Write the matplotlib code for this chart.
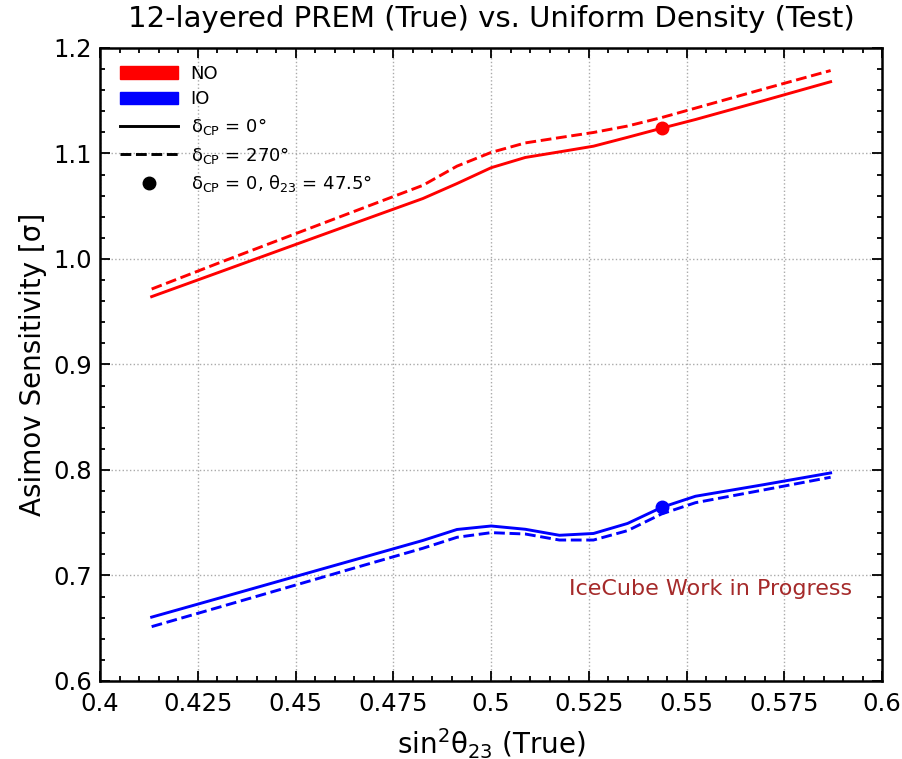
import numpy as np
import matplotlib
matplotlib.use("Agg")
import matplotlib.pyplot as plt
from matplotlib.patches import Patch
from matplotlib.lines import Line2D
from matplotlib.ticker import MultipleLocator, FixedLocator, FixedFormatter

# sin^2(theta23) for theta23 = 40 ... 50 deg
sin2_th23 = [0.41318, 0.43041, 0.44774, 0.46512, 0.48255, 0.49127, 0.5,
             0.50873, 0.51745, 0.52617, 0.53488, 0.54358, 0.55226, 0.56959, 0.58682]

no_dcp0   = [0.9643, 0.9874, 1.0107, 1.0340, 1.0573, 1.0715, 1.0865,
             1.0962, 1.1015, 1.1069, 1.1153, 1.1239, 1.1322, 1.1500, 1.1680]
no_dcp270 = [0.9715, 0.9963, 1.0208, 1.0453, 1.0698, 1.0880, 1.1010,
             1.1100, 1.1150, 1.1199, 1.1260, 1.1340, 1.1430, 1.1610, 1.1786]
io_dcp0   = [0.6605, 0.6785, 0.6967, 0.7149, 0.7332, 0.7436, 0.7469,
             0.7438, 0.7381, 0.7398, 0.7493, 0.7645, 0.7751, 0.7860, 0.7972]
io_dcp270 = [0.6515, 0.6699, 0.6885, 0.7072, 0.7258, 0.7362, 0.7406,
             0.7393, 0.7336, 0.7336, 0.7425, 0.7583, 0.7690, 0.7810, 0.7931]

i_475 = 11  # theta23 = 47.5 deg

xticks = [0.4, 0.425, 0.45, 0.475, 0.5, 0.525, 0.55, 0.575, 0.6]
xtick_labels = ["0.4", "0.425", "0.45", "0.475", "0.5", "0.525", "0.55", "0.575", "0.6"]
yticks = [0.6, 0.7, 0.8, 0.9, 1.0, 1.1, 1.2]
ytick_labels = ["0.6", "0.7", "0.8", "0.9", "1.0", "1.1", "1.2"]

fig = plt.figure(figsize=(9.02, 7.59), dpi=100)
ax = fig.add_axes([0.111, 0.1028, 0.867, 0.834])

lw = 2.1
ax.plot(sin2_th23, no_dcp0, color="red", lw=lw)
ax.plot(sin2_th23, no_dcp270, color="red", lw=lw, ls="--")
ax.plot(sin2_th23, io_dcp0, color="blue", lw=lw)
ax.plot(sin2_th23, io_dcp270, color="blue", lw=lw, ls="--")
ax.plot(sin2_th23[i_475], no_dcp0[i_475], "o", color="red", ms=9)
ax.plot(sin2_th23[i_475], io_dcp0[i_475], "o", color="blue", ms=9)

ax.set_xlim(0.4, 0.6)
ax.set_ylim(0.6, 1.2)
ax.xaxis.set_major_locator(FixedLocator(xticks))
ax.xaxis.set_major_formatter(FixedFormatter(xtick_labels))
ax.xaxis.set_minor_locator(MultipleLocator(0.005))
ax.yaxis.set_major_locator(FixedLocator(yticks))
ax.yaxis.set_major_formatter(FixedFormatter(ytick_labels))
ax.yaxis.set_minor_locator(MultipleLocator(0.02))

ax.tick_params(which="both", direction="in", top=True, right=True, width=1.3,
               labelsize=17.5)
ax.tick_params(which="major", length=7)
ax.tick_params(which="minor", length=3.5)
ax.tick_params(axis="x", which="major", pad=8)
ax.tick_params(axis="y", which="major", pad=6)
for sp in ax.spines.values():
    sp.set_linewidth(1.8)

ax.grid(True, which="major", ls=":", color="#aaaaaa", lw=1.0)

ax.set_title("12-layered PREM (True) vs. Uniform Density (Test)", fontsize=21, pad=15)
ax.set_ylabel("Asimov Sensitivity [σ]", fontsize=20, labelpad=4)
ax.set_xlabel("sin$^2$θ$_{23}$ (True)", fontsize=20, labelpad=7)

ax.text(0.962, 0.145, "IceCube Work in Progress", transform=ax.transAxes,
        ha="right", va="center", color="brown", fontsize=16)

handles = [
    Patch(color="red"),
    Patch(color="blue"),
    Line2D([], [], color="black", lw=lw),
    Line2D([], [], color="black", lw=lw, ls="--"),
    Line2D([], [], color="black", marker="o", ls="", ms=9),
]
labels = [
    "NO",
    "IO",
    "δ$_{\\mathrm{CP}}$ = 0°",
    "δ$_{\\mathrm{CP}}$ = 270°",
    "δ$_{\\mathrm{CP}}$ = 0, θ$_{23}$ = 47.5°",
]
ax.legend(handles, labels, loc="upper left", bbox_to_anchor=(0.005, 0.999),
          frameon=False, fontsize=13, handlelength=3.2, handletextpad=0.7,
          labelspacing=0.42, borderaxespad=0.5)

fig.savefig("out.png", dpi=100)
